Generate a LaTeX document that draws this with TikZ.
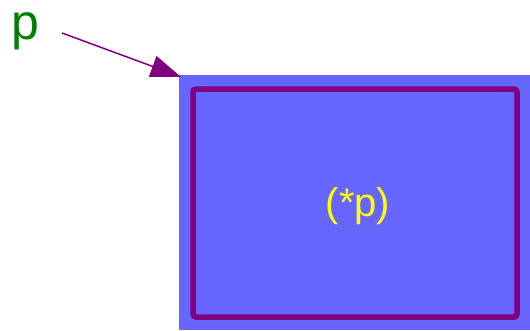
\documentclass[tikz,border=0pt]{standalone}
\usepackage{fontspec}
\setmainfont{Liberation Sans}
\usetikzlibrary{arrows.meta, positioning}

\definecolor{ptrgreen}{HTML}{008000}
\definecolor{ptrpurple}{HTML}{800080}
\definecolor{cellblue}{HTML}{6666FF}
\definecolor{valyellow}{HTML}{FFFF00}

\begin{document}
\begin{tikzpicture}[
    x=1pt, y=-1pt,
    label/.style={text=ptrgreen, inner sep=0pt, font=\fontsize{50}{60}\selectfont},
    cell/.style={
        fill=cellblue, inner sep=0pt,
        minimum width=351pt, minimum height=255pt
    },
    value/.style={
        draw=ptrpurple, line width=5.5pt, rounded corners=3pt,
        minimum width=324pt, minimum height=228pt,
        text=valyellow, font=\fontsize{40}{48}\selectfont
    },
    ptr/.style={-{Triangle[length=30pt, width=22pt]}, draw=ptrpurple, fill=ptrpurple, line width=1.5pt}
]
\useasboundingbox (0,0) rectangle (530,330);

\node[label] (p) at (25,31) {p};
\node[cell]  (obj) at (354.5,202.5) {};
\node[value] (val) at (355,203) {};
\node[text=valyellow, font=\fontsize{40}{48}\selectfont] (deref) at (358,206) {(*p)};

\coordinate (tail) at (62,33);
\draw[ptr] (tail) -- ([shift={(2,2)}]obj.north west);

\end{tikzpicture}
\end{document}
